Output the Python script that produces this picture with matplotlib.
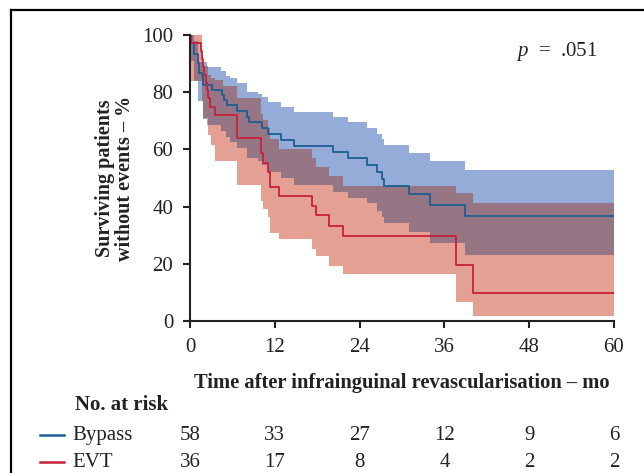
import matplotlib
matplotlib.use("Agg")
from matplotlib import pyplot as plt
from matplotlib.lines import Line2D
import matplotlib.transforms as mtransforms
import numpy as np

# Kaplan-Meier curves (time in months, survival in %)
bypass_t = [0, 0.2, 0.6, 1.1, 1.3, 1.65, 1.9, 3.1, 4.5, 4.85, 5.2, 6.7, 8.0, 8.3, 10.2, 11.1,
            12.9, 14.7, 20.3, 22.4, 25.0, 26.5, 27.2, 27.5, 31.0, 34.0, 38.9, 60]
bypass_s = [100, 97.3, 93.2, 90.2, 86.7, 85.5, 82.6, 80.9, 79.1, 77.4, 75.5, 73.5, 71.5, 69.6, 67.4, 65.4,
            63.3, 61.2, 59.1, 57.0, 54.6, 52.2, 49.8, 47.3, 44.5, 40.6, 36.7, 36.7]

evt_t = [0, 0.1, 1.6, 1.75, 1.9, 2.0, 2.2, 2.4, 2.6, 2.8, 3.5, 6.6, 10.1, 10.4, 11.1, 11.3,
         12.6, 17.2, 17.8, 19.6, 21.7, 37.6, 40.1, 60]
evt_s = [100, 97.2, 94.4, 91.7, 88.9, 86.1, 83.3, 80.6, 77.8, 75.0, 72.2, 63.9, 58.6, 55.3, 52.2, 46.7,
         43.7, 40.3, 37.0, 33.2, 29.6, 19.7, 9.9, 9.9]

# confidence bands
bypass_ci_t = [0, 0.6, 1.2, 1.9, 2.4, 4.4, 5.1, 5.6, 6.7, 8.1, 9.6, 10.2, 11.1, 12.9, 14.7,
               20.3, 22.4, 25.0, 26.5, 27.2, 27.5, 31.0, 34.0, 38.9, 60]
bypass_up = [100, 98, 90.7, 90.7, 88.9, 87.4, 85.8, 84.8, 83.1, 80.2, 79.2, 78.2, 76.4, 74.8, 73.2,
             71.3, 69.5, 67.4, 65.4, 63.6, 61.4, 58.9, 56.1, 52.8, 52.8]
bypass_lo = [91, 84, 77, 70.8, 68.5, 66.5, 64.5, 62.6, 60.4, 56.9, 55.8, 54.6, 52.0, 50.0, 47.5,
             45.0, 42.9, 41.1, 38.5, 36.4, 34.1, 31.2, 27.3, 23.2, 23.2]

evt_ci_t = [0, 1.65, 1.9, 2.5, 3.0, 3.5, 4.7, 6.6, 10.1, 10.4, 11.1, 11.3, 12.6, 17.2, 17.8,
            19.6, 21.7, 37.6, 40.1, 60]
evt_up = [100, 93, 89, 86, 85, 84.4, 82.0, 77.8, 72.5, 70.4, 67.5, 63.5, 60.3, 57.1, 54.0,
          50.7, 47.3, 44.6, 41.2, 41.2]
evt_lo = [84, 77, 70.9, 65.1, 61.6, 56.1, 56.1, 47.4, 41.9, 39.0, 36.4, 30.8, 28.5, 25.3, 22.6,
          19.1, 16.3, 6.8, 1.9, 1.9]

risk_times = [0, 12, 24, 36, 48, 60]
risk_bypass = [58, 33, 27, 12, 9, 6]
risk_evt = [36, 17, 8, 4, 2, 2]

c_blue, c_red = '#1b5f94', '#c8203a'
f_blue, f_red, f_both = '#95acd8', '#e4a092', '#967685'
c_txt = '#222222'

plt.rcParams['font.family'] = ['Liberation Serif', 'DejaVu Serif']
plt.rcParams['mathtext.fontset'] = 'custom'
plt.rcParams['mathtext.it'] = 'Liberation Serif:italic'
plt.rcParams['mathtext.rm'] = 'Liberation Serif'


def step_at(knots, vals, grid):
    idx = np.searchsorted(np.array(knots), grid, side='right') - 1
    idx = np.clip(idx, 0, len(vals) - 1)
    return np.array(vals)[idx]


fig = plt.figure(figsize=(6.44, 4.73), dpi=100)
ax = fig.add_axes([190 / 644, 1 - 321 / 473, 424 / 644, 286 / 473])

grid = np.unique(np.concatenate([bypass_ci_t, evt_ci_t]))
b_up, b_lo = step_at(bypass_ci_t, bypass_up, grid), step_at(bypass_ci_t, bypass_lo, grid)
e_up, e_lo = step_at(evt_ci_t, evt_up, grid), step_at(evt_ci_t, evt_lo, grid)
o_up, o_lo = np.minimum(b_up, e_up), np.maximum(b_lo, e_lo)

ax.fill_between(grid, b_lo, b_up, step='post', color=f_blue, lw=0)
ax.fill_between(grid, e_lo, e_up, step='post', color=f_red, lw=0)
ax.fill_between(grid, o_lo, o_up, where=o_up > o_lo, step='post', color=f_both, lw=0)

ax.step(bypass_t, bypass_s, where='post', color=c_blue, lw=1.3)
ax.step(evt_t, evt_s, where='post', color=c_red, lw=1.3)

ax.set_xlim(0, 60)
ax.set_ylim(0, 100)
ax.set_xticks(risk_times)
ax.set_yticks([0, 20, 40, 60, 80, 100])
for s in ['top', 'right']:
    ax.spines[s].set_visible(False)
for s in ['left', 'bottom']:
    ax.spines[s].set_linewidth(1.5)
    ax.spines[s].set_color(c_txt)
ax.tick_params(width=1.5, length=5, labelsize=15, color=c_txt, labelcolor=c_txt, pad=7)

ax.set_xlabel('Time after infrainguinal revascularisation – mo', fontsize=14.8,
              fontweight='bold', labelpad=12, color=c_txt)
ax.set_ylabel('Surviving patients\nwithout events – %', fontsize=14.5, fontweight='bold',
              labelpad=5, linespacing=1.05, color=c_txt)
ax.text(57.7, 94.2, r'$p$  =  .051', fontsize=15, ha='right', va='center', color=c_txt)

# number at risk table
trans = mtransforms.blended_transform_factory(ax.transData, fig.transFigure)
fig.text(75 / 644, 1 - 405 / 473, 'No. at risk', fontsize=15, fontweight='bold', va='center',
         color=c_txt)
for yy, name, col, vals in [(435, 'Bypass', c_blue, risk_bypass), (462, 'EVT', c_red, risk_evt)]:
    yf = 1 - yy / 473
    fig.add_artist(Line2D([40 / 644, 64 / 644], [yf, yf], color=col, lw=1.8))
    fig.text(72 / 644, yf, name, fontsize=15, va='center', color=c_txt)
    for t, v in zip(risk_times, vals):
        ax.text(t, yf, str(v), transform=trans, fontsize=15, ha='center', va='center',
                color=c_txt, clip_on=False)

# outer frame
fig.add_artist(Line2D([11 / 644, 11 / 644], [0, 1 - 10 / 473], color='black', lw=1.6))
fig.add_artist(Line2D([11 / 644, 1], [1 - 10 / 473, 1 - 10 / 473], color='black', lw=1.6))

fig.savefig('out.png', dpi=100)
